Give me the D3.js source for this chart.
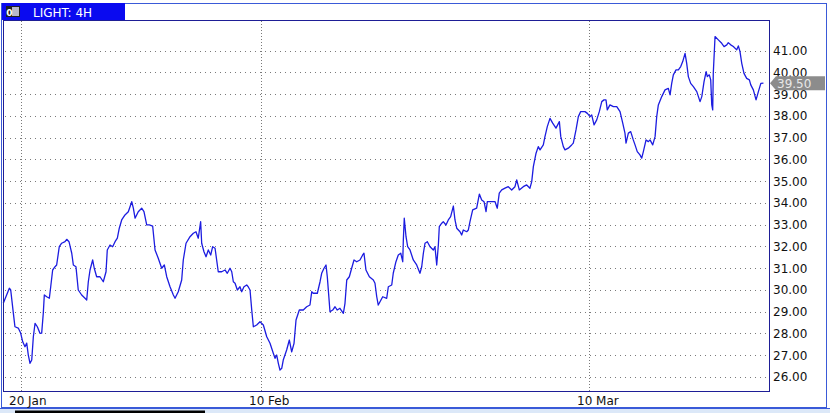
<!DOCTYPE html>
<html><head><meta charset="utf-8">
<script src="https://cdn.jsdelivr.net/npm/d3@7"></script>
<style>html,body{margin:0;padding:0;background:#fff;}svg{display:block;}</style>
</head><body>
<svg id="chart" width="830" height="413"></svg>
<script>
const title = "LIGHT: 4H";
const lastLabel = "39.50";
const lastPrice = 39.50;
const yTicks = [26,27,28,29,30,31,32,33,34,35,36,37,38,39,40,41];
const xTickDays = [0, 21, 49];
const xTickLabels = ["20 Jan", "10 Feb", "10 Mar"];
// days since 20 Jan
const days = [-1.55,-1.02,-0.90,-0.67,-0.53,-0.24,-0.03,0.15,0.35,0.50,0.64,0.79,0.94,1.08,1.23,1.43,1.66,1.81,1.95,2.04,2.25,2.48,2.60,2.77,2.98,3.12,3.35,3.56,3.85,4.00,4.20,4.44,4.58,4.81,5.01,5.31,5.60,5.75,5.89,6.04,6.27,6.41,6.62,6.91,7.20,7.44,7.55,7.79,8.02,8.23,8.43,8.60,8.81,9.10,9.39,9.69,9.83,9.98,10.26,10.56,10.76,11.00,11.23,11.52,11.73,12.01,12.31,12.54,12.75,13.04,13.33,13.48,13.76,14.06,14.20,14.44,14.79,15.08,15.31,15.51,15.72,15.81,16.01,16.19,16.39,16.60,16.77,16.98,17.12,17.26,17.56,17.85,18.05,18.29,18.44,18.58,18.73,18.93,19.16,19.31,19.51,19.75,19.89,20.04,20.19,20.33,20.62,20.91,21.20,21.49,21.77,22.05,22.20,22.34,22.48,22.62,22.77,22.90,23.19,23.42,23.62,23.82,23.99,24.27,24.61,24.90,25.18,25.33,25.46,25.81,26.04,26.18,26.38,26.55,26.66,26.89,27.12,27.32,27.51,27.74,28.03,28.17,28.32,28.54,28.74,28.94,29.17,29.45,29.68,29.79,29.96,30.25,30.59,30.73,30.88,31.01,31.16,31.39,31.73,31.87,32.16,32.29,32.52,32.72,32.93,33.10,33.15,33.23,33.38,33.52,33.72,34.00,34.29,34.57,34.72,34.86,35.00,35.20,35.43,35.71,35.85,36.00,36.14,36.22,36.43,36.56,36.79,36.99,37.19,37.42,37.56,37.71,37.99,38.13,38.27,38.56,38.70,38.84,39.07,39.41,39.64,39.84,40.04,40.21,40.32,40.61,40.98,41.17,41.34,41.55,41.83,42.11,42.40,42.68,42.83,43.05,43.39,43.68,43.96,44.11,44.25,44.48,44.67,44.82,45.10,45.24,45.44,45.67,45.90,46.18,46.47,46.59,46.81,46.95,47.23,47.52,47.66,47.89,48.09,48.29,48.66,48.86,49.09,49.23,49.43,49.66,49.88,50.09,50.28,50.45,50.56,50.79,51.08,51.37,51.65,51.88,52.07,52.16,52.36,52.56,52.78,52.93,53.12,53.35,53.50,53.64,53.87,54.07,54.21,54.44,54.64,54.78,54.92,55.21,55.49,55.77,55.92,56.06,56.20,56.43,56.63,56.83,57.00,57.20,57.34,57.48,57.68,57.91,58.20,58.48,58.63,58.82,59.00,59.10,59.27,59.39,59.48,59.56,59.61,59.76,60.04,60.33,60.53,60.76,60.89,61.10,61.32,61.61,61.75,61.89,62.04,62.23,62.46,62.69,62.81,63.03,63.26,63.46,63.67,63.89];
const prices = [29.38,30.07,29.99,28.93,28.30,28.24,28.01,27.61,27.38,27.55,27.00,26.62,26.77,27.84,28.46,28.30,28.00,28.01,28.92,29.76,29.68,29.61,30.14,30.91,31.06,31.14,31.98,32.14,32.21,32.32,32.21,31.68,31.14,31.06,29.99,29.76,29.61,29.53,30.37,30.91,31.37,30.99,30.60,30.60,30.37,30.83,31.83,32.06,31.98,32.21,32.37,32.83,33.21,33.44,33.59,34.05,33.75,33.29,33.59,33.75,33.59,32.98,32.98,32.93,31.83,31.45,30.99,31.14,30.60,30.14,29.76,29.61,29.91,30.45,31.37,32.14,32.44,32.60,32.67,32.37,33.13,32.14,31.75,31.52,31.83,31.60,31.98,31.91,31.37,30.83,30.83,30.91,30.76,30.99,30.83,30.37,30.30,29.99,30.14,29.91,30.14,30.22,30.13,29.99,29.07,28.30,28.38,28.53,28.38,27.84,27.54,27.08,26.85,27.00,26.62,26.31,26.39,26.77,27.23,27.69,27.15,27.54,28.61,29.07,29.07,29.22,29.30,29.91,29.84,29.84,30.37,30.76,30.99,31.14,30.60,28.99,29.07,29.22,29.07,29.15,28.92,29.38,30.45,30.60,30.99,31.37,31.29,31.37,31.60,31.68,30.91,30.60,30.45,30.30,29.68,29.30,29.45,29.68,29.61,30.14,30.22,30.76,31.29,31.60,31.68,31.29,32.29,33.29,32.44,31.98,31.83,31.37,31.14,30.76,31.06,31.68,32.14,32.21,31.98,31.83,31.98,31.14,32.06,32.90,33.06,33.13,32.98,33.21,33.36,33.85,33.21,32.83,32.67,32.52,32.75,32.67,32.75,33.13,33.67,33.75,34.40,34.13,34.05,33.59,34.05,34.05,34.05,33.75,34.44,34.59,34.67,34.74,34.59,34.74,35.05,34.59,34.74,34.82,34.67,34.97,35.66,36.28,36.58,36.43,36.66,37.04,37.50,37.88,37.66,37.43,37.73,37.04,36.58,36.43,36.51,36.66,36.74,37.35,37.96,38.19,38.19,38.11,37.96,38.04,37.58,37.81,38.19,38.65,38.73,38.73,38.27,38.50,38.42,38.42,38.19,37.66,37.20,36.74,37.20,37.27,36.89,36.66,36.35,36.20,36.05,36.35,36.89,36.81,36.89,36.66,37.04,37.96,38.50,38.88,39.19,39.26,38.96,39.49,39.88,40.11,40.11,40.26,40.49,40.87,40.41,39.80,39.49,39.34,39.11,38.65,38.88,39.57,40.03,39.80,39.88,39.65,38.50,38.27,39.95,41.64,41.49,41.33,41.18,41.26,41.36,41.26,41.18,41.03,41.21,40.95,40.41,39.95,39.72,39.65,39.42,39.19,38.73,39.11,39.49,39.50];

const svg = d3.select("#chart");
const font = "'DejaVu Sans', Verdana, sans-serif";
const plot = {left: 3.5, right: 769.5, top: 20.5, bottom: 391.5};

const x = d3.scaleLinear().domain(xTickDays).range([21, 261, 589]);
const y = d3.scaleLinear().domain([26, 41]).range([376.8, 50.5]);

// outer frame
svg.append("rect").attr("x",1.5).attr("y",3.5).attr("width",825).attr("height",404)
  .attr("fill","#fff").attr("stroke","#3a5ad8").attr("stroke-width",1);
// bottom strip
svg.append("rect").attr("x",0).attr("y",408).attr("width",830).attr("height",5).attr("fill","#dce8f8");
svg.append("line").attr("x1",0).attr("x2",830).attr("y1",408.5).attr("y2",408.5).attr("stroke","#3a5ad8");
svg.append("rect").attr("x",15).attr("y",410.5).attr("width",190).attr("height",3).attr("fill","#000");

// header
svg.append("rect").attr("x",2).attr("y",3).attr("width",123).attr("height",17).attr("fill","#0a0af0");
svg.append("rect").attr("x",6.5).attr("y",6.5).attr("width",13).attr("height",10).attr("fill","#b8b8c8").attr("stroke","#202020");
svg.append("rect").attr("x",7).attr("y",7).attr("width",5).attr("height",9).attr("fill","#202020");
svg.append("text").attr("x",9.5).attr("y",15.5).attr("text-anchor","middle").attr("font-family",font)
  .attr("font-size",9).attr("font-weight","bold").attr("fill","#fff").text("0");
svg.append("text").attr("x",33).attr("y",16.5).attr("font-family",font).attr("font-size",12)
  .attr("fill","#fff").text(title);

// grid
const g = svg.append("g").attr("shape-rendering","crispEdges");
g.selectAll(".hg").data(yTicks).join("line")
  .attr("x1",plot.left+1).attr("x2",plot.right)
  .attr("y1",d=>Math.round(y(d))+0.5).attr("y2",d=>Math.round(y(d))+0.5)
  .attr("stroke","#7a7a7a").attr("stroke-dasharray","1,4");
g.selectAll(".vg").data(xTickDays).join("line")
  .attr("x1",d=>Math.round(x(d))+0.5).attr("x2",d=>Math.round(x(d))+0.5)
  .attr("y1",plot.top).attr("y2",plot.bottom)
  .attr("stroke","#7a7a7a").attr("stroke-dasharray","1,2");

// price line
const line = d3.line().x((d,i)=>x(days[i])).y(d=>y(d));
svg.append("path").datum(prices).attr("d",line).attr("fill","none")
  .attr("stroke","#1c1ce0").attr("stroke-width",1.3).attr("stroke-linejoin","round");

// plot border
svg.append("rect").attr("x",plot.left).attr("y",plot.top)
  .attr("width",plot.right-plot.left).attr("height",plot.bottom-plot.top)
  .attr("fill","none").attr("stroke","#1e1e96");

// y axis labels
svg.selectAll(".yl").data(yTicks).join("text")
  .attr("x",773).attr("y",d=>y(d)+4.5).attr("font-family",font).attr("font-size",12)
  .attr("fill","#111").text(d=>d.toFixed(2));

// x labels
svg.selectAll(".xl").data(xTickDays).join("text")
  .attr("x",(d)=>x(d)-12).attr("y",405).attr("font-family",font).attr("font-size",12)
  .attr("fill","#111").text((d,i)=>xTickLabels[i]);

// last price marker
const ly = y(lastPrice);
svg.append("path").attr("d",`M770,${ly} L776,${ly-7} L825,${ly-7} L825,${ly+7} L776,${ly+7} Z`)
  .attr("fill","#8c8c8c");
svg.append("text").attr("x",777).attr("y",ly+4.5).attr("font-family",font).attr("font-size",12)
  .attr("fill","#e8e8e8").text(lastLabel);
</script>
</body></html>
